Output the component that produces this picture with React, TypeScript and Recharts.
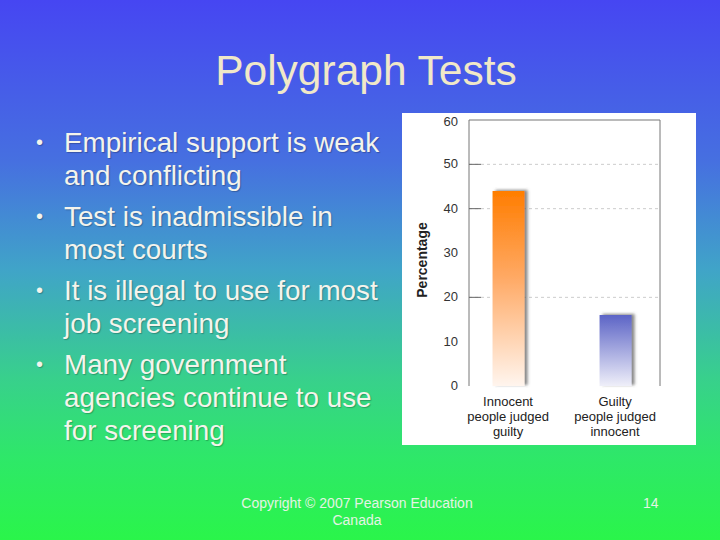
import React from "react";
import { Bar, BarChart, CartesianGrid, ReferenceLine, XAxis, YAxis } from "recharts";

const categories = ["Innocent\npeople judged\nguilty", "Guilty\npeople judged\ninnocent"];
const percentages = [44, 16];
const yTicks = [0, 10, 20, 30, 40, 50, 60];
const gridValues = [20, 40, 50];
const bullets = [
  ["Empirical support is weak", "and conflicting"],
  ["Test is inadmissible in", "most courts"],
  ["It is illegal to use for most", "job screening"],
  ["Many government", "agencies continue to use", "for screening"],
];

// numeric x axis so the two bars can sit off-centre like the original figure
const X_MIN = -0.365;
const X_MAX = 1.42;

const data = percentages.map((v, i) => ({ idx: i, value: v, fill: i === 0 ? "url(#orangeBar)" : "url(#blueBar)" }));

const font = "'Liberation Sans', Arial, Helvetica, sans-serif";

function YTick(props: any) {
  const { x, y, payload } = props;
  const v = payload.value;
  return (
    <g>
      <text x={x} y={y} dy={4} textAnchor="end" fontSize={13} fill="#333" fontFamily={font}>
        {v}
      </text>
      {gridValues.includes(v) && <line x1={x + 11} x2={x + 23} y1={y} y2={y} stroke="#666" strokeWidth={1} />}
    </g>
  );
}

function XTick(props: any) {
  const { x, y, payload } = props;
  const lines = categories[payload.value].split("\n");
  return (
    <text x={x} y={y} textAnchor="middle" fontSize={13} fill="#222" fontFamily={font}>
      {lines.map((l, i) => (
        <tspan key={i} x={x} dy={i === 0 ? 12 : 15}>
          {l}
        </tspan>
      ))}
    </text>
  );
}

function PctLabel(props: any) {
  const { viewBox } = props;
  const x = viewBox.x + 8;
  const y = viewBox.y + viewBox.height / 2 + 7;
  return (
    <text x={x} y={y} transform={`rotate(-90, ${x}, ${y})`} textAnchor="middle" fontSize={14} fontWeight="bold" fill="#222" fontFamily={font}>
      Percentage
    </text>
  );
}

export default function App() {
  return (
    <div
      style={{
        position: "fixed",
        left: 0,
        top: 0,
        width: 720,
        height: 540,
        overflow: "hidden",
        background: "linear-gradient(to bottom, #4646f2 0%, #4670e0 30%, #40a4c8 50%, #38d08c 70%, #2ee868 85%, #2af54a 100%)",
        fontFamily: font,
      }}
    >
      <div style={{ position: "absolute", left: 0, top: 47, width: 732, textAlign: "center", fontSize: 42.5, color: "#f0e8c8" }}>
        Polygraph Tests
      </div>

      <div style={{ position: "absolute", left: 0, top: 126, width: 420, color: "#f4f4ec", fontSize: 27.8, textShadow: "1px 1px 1px rgba(0,0,0,0.25)" }}>
        {bullets.map((b, i) => (
          <div key={i} style={{ position: "relative", paddingLeft: 64, marginBottom: 8, lineHeight: "33px" }}>
            <span style={{ position: "absolute", left: 36, top: 0, fontSize: 20 }}>•</span>
            {b.map((l, j) => (
              <div key={j} style={{ whiteSpace: "nowrap" }}>{l}</div>
            ))}
          </div>
        ))}
      </div>

      <div style={{ position: "absolute", left: 402, top: 113, width: 294, height: 332, background: "#fff" }}>
        <BarChart width={294} height={332} data={data} margin={{ top: 7, right: 36, left: 17, bottom: 0 }}>
          <defs>
            <linearGradient id="orangeBar" x1="0" y1="0" x2="0" y2="1">
              <stop offset="0%" stopColor="#ff7d00" />
              <stop offset="45%" stopColor="#ffaa66" />
              <stop offset="100%" stopColor="#fff5ee" />
            </linearGradient>
            <linearGradient id="blueBar" x1="0" y1="0" x2="0" y2="1">
              <stop offset="0%" stopColor="#5c64c6" />
              <stop offset="100%" stopColor="#efeff9" />
            </linearGradient>
            <filter id="barShadow" x="-30%" y="-10%" width="160%" height="120%">
              <feDropShadow dx={3} dy={-1} stdDeviation={1.5} floodColor="#555" floodOpacity={0.7} />
            </filter>
          </defs>
          <CartesianGrid horizontal vertical={false} horizontalValues={gridValues} strokeDasharray="3 3" stroke="#ccc" />
          <ReferenceLine y={60} stroke="#777" />
          <ReferenceLine x={X_MAX} stroke="#777" />
          <XAxis
            type="number"
            dataKey="idx"
            domain={[X_MIN, X_MAX]}
            ticks={[0, 1]}
            axisLine={false}
            tickLine={false}
            height={59}
            tick={<XTick />}
            allowDataOverflow
          />
          <YAxis
            domain={[0, 60]}
            ticks={yTicks}
            width={50}
            axisLine={{ stroke: "#777" }}
            tickLine={false}
            tickMargin={5}
            tick={<YTick />}
            label={<PctLabel />}
          />
          <Bar dataKey="value" barSize={32} isAnimationActive={false} style={{ filter: "url(#barShadow)" }} />
        </BarChart>
      </div>

      <div style={{ position: "absolute", left: 227, top: 495, width: 260, textAlign: "center", fontSize: 14, lineHeight: "17px", color: "#e4f4e4" }}>
        Copyright © 2007 Pearson Education Canada
      </div>
      <div style={{ position: "absolute", left: 643, top: 495, fontSize: 14, lineHeight: "17px", color: "#e4f4e4" }}>14</div>
    </div>
  );
}
